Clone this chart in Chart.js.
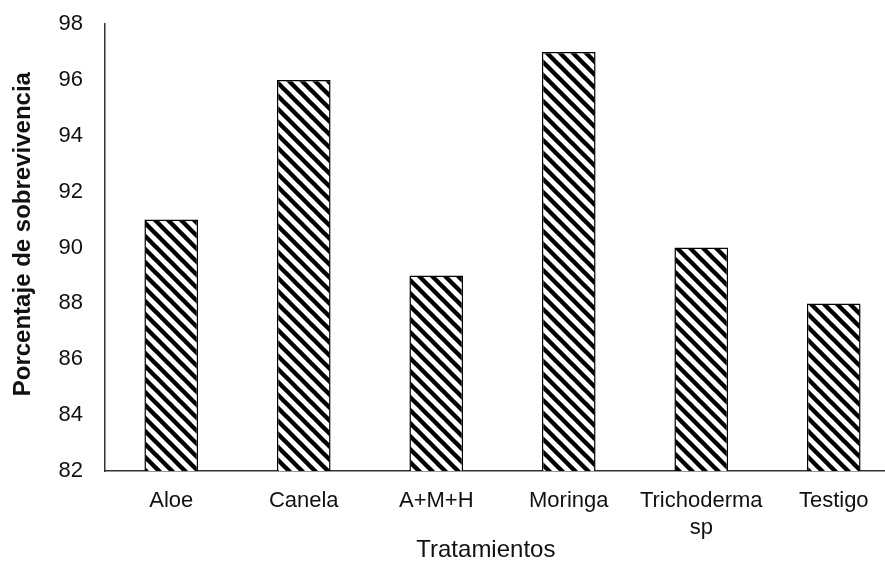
<!DOCTYPE html>
<html>
<head>
<meta charset="utf-8">
<script src="https://cdn.jsdelivr.net/npm/chart.js@4.4.1/dist/chart.umd.min.js"></script>
<style>
  html, body { margin: 0; padding: 0; background: #fff; overflow: hidden; }
  #wrap { width: 885px; height: 563px; overflow: hidden; }
  #c { display: block; }
</style>
</head>
<body>
<div id="wrap"><canvas id="c" width="905" height="563"></canvas></div>
<script>
// Tratamientos evaluados y porcentaje de sobrevivencia
const tratamientos = ["Aloe", "Canela", "A+M+H", "Moringa", ["Trichoderma", "sp"], "Testigo"];
const sobrevivencia = [91, 96, 89, 97, 90, 88];
const yMin = 82;
const yMax = 98;
const yStep = 2;

const FONT = 'Liberation Sans, Arial, sans-serif';
const INK = '#111';

// Diagonal hatch fill for the bars
function hatchPattern() {
  const s = 13;
  const tile = document.createElement('canvas');
  tile.width = s; tile.height = s;
  const g = tile.getContext('2d');
  g.fillStyle = '#fff';
  g.fillRect(0, 0, s, s);
  g.strokeStyle = '#000';
  g.lineWidth = 4.4;
  g.lineCap = 'square';
  for (const off of [-s, 0, s]) {
    g.beginPath();
    g.moveTo(off - 2, -2);
    g.lineTo(off + s + 2, s + 2);
    g.stroke();
  }
  return g.createPattern(tile, 'repeat');
}

const ctx = document.getElementById('c').getContext('2d');
new Chart(ctx, {
  type: 'bar',
  data: {
    labels: tratamientos,
    datasets: [{
      data: sobrevivencia,
      backgroundColor: hatchPattern(),
      borderColor: '#000',
      borderWidth: 1.5,
      borderSkipped: false,
      categoryPercentage: 1,
      barPercentage: 0.405
    }]
  },
  options: {
    responsive: false,
    animation: false,
    devicePixelRatio: 1,
    layout: { padding: { top: 24, right: 5, left: 0, bottom: 0 } },
    plugins: { legend: { display: false }, tooltip: { enabled: false } },
    scales: {
      x: {
        grid: { display: false, drawTicks: false },
        border: { display: true, color: '#333', width: 1.5 },
        ticks: {
          color: INK,
          font: { family: FONT, size: 22 },
          padding: 17,
          maxRotation: 0,
          autoSkip: false
        },
        title: {
          display: true,
          text: 'Tratamientos     ',
          color: INK,
          font: { family: FONT, size: 24 },
          padding: { top: 0, bottom: -2 }
        },
        afterFit: (scale) => { scale.height = 92; }
      },
      y: {
        min: yMin,
        max: yMax,
        grid: { display: false, drawTicks: false },
        border: { display: true, color: '#333', width: 1.5 },
        ticks: {
          stepSize: yStep,
          color: INK,
          font: { family: FONT, size: 22 },
          padding: 22
        },
        title: {
          display: true,
          text: '    Porcentaje de sobrevivencia',
          color: INK,
          font: { family: FONT, size: 24, weight: 'bold' },
          padding: { top: 9, bottom: 0 }
        },
        afterFit: (scale) => {
          scale.width = 105;
          scale.paddingTop = 0;
          scale.paddingBottom = 0;
        }
      }
    }
  }
});
</script>
</body>
</html>
